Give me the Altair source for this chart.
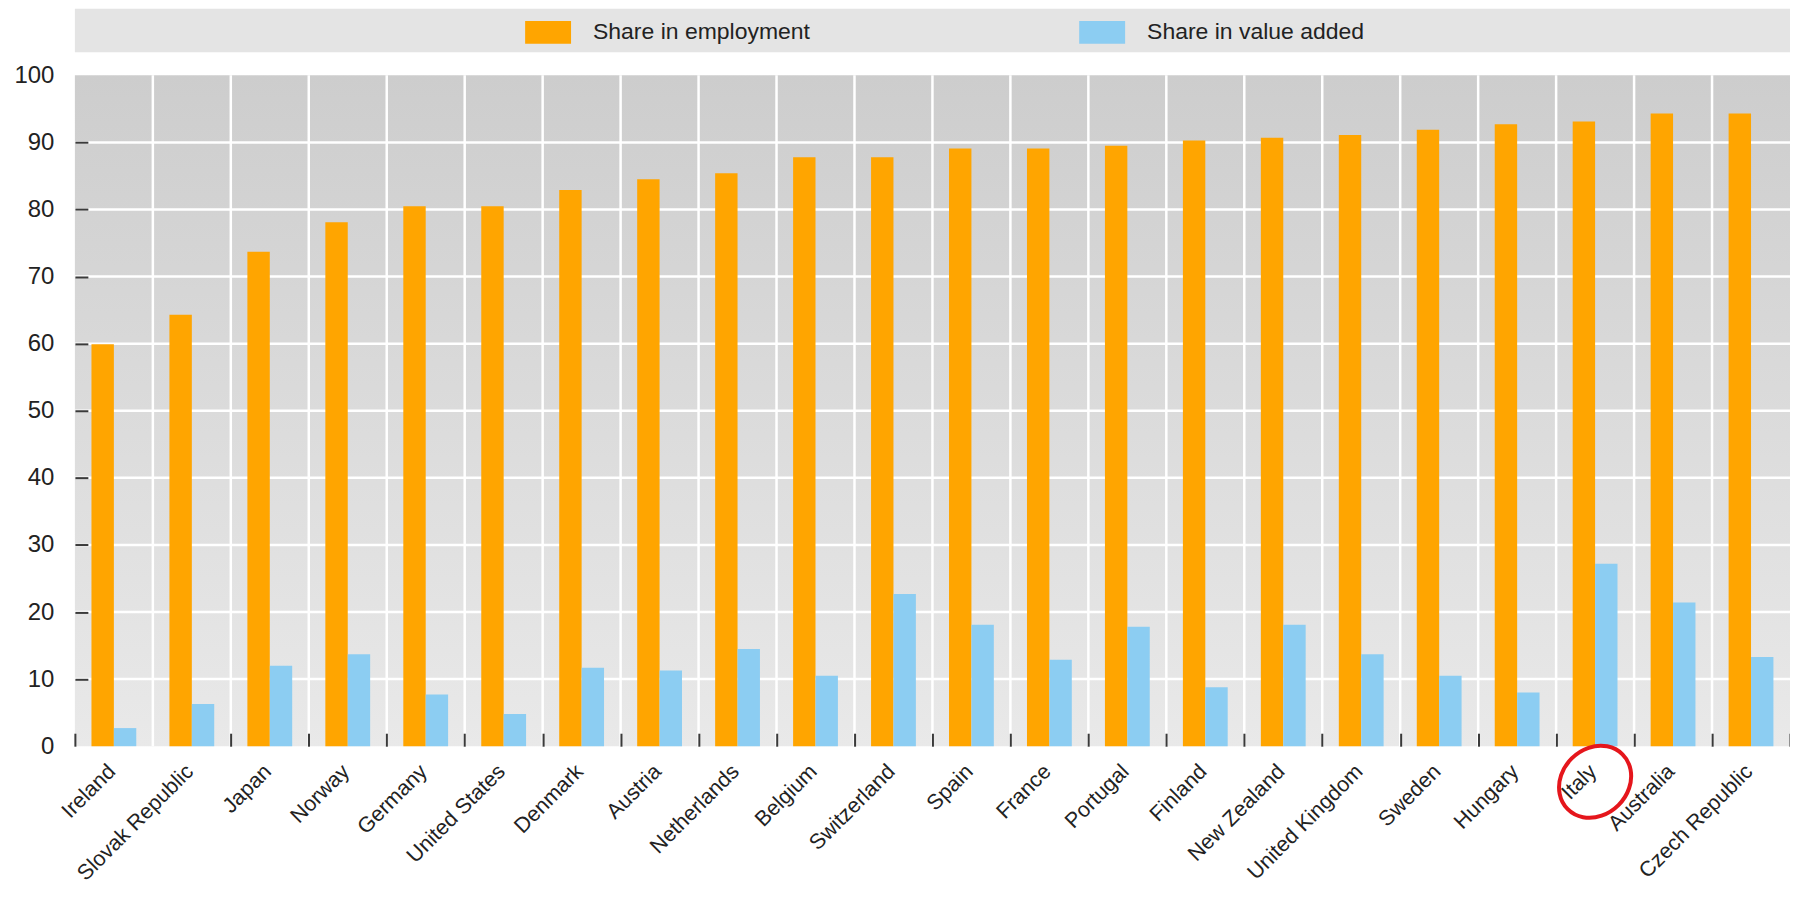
import altair as alt
import pandas as pd

# ---------------- data ----------------
countries = ["Ireland", "Slovak Republic", "Japan", "Norway", "Germany", "United States",
             "Denmark", "Austria", "Netherlands", "Belgium", "Switzerland", "Spain", "France",
             "Portugal", "Finland", "New Zealand", "United Kingdom", "Sweden", "Hungary",
             "Italy", "Australia", "Czech Republic"]
employment = [59.9, 64.3, 73.7, 78.1, 80.5, 80.5, 82.9, 84.5, 85.4, 87.8, 87.8, 89.1, 89.1,
              89.5, 90.3, 90.7, 91.1, 91.9, 92.7, 93.1, 94.3, 94.3]
value_added = [2.7, 6.3, 12.0, 13.7, 7.7, 4.8, 11.7, 11.3, 14.5, 10.5, 22.7, 18.1, 12.9,
               17.8, 8.8, 18.1, 13.7, 10.5, 8.0, 27.2, 21.4, 13.3]
series_names = ["Share in employment", "Share in value added"]
series_colors = ["#ffa500", "#8ccdf2"]
y_ticks = [0, 10, 20, 30, 40, 50, 60, 70, 80, 90, 100]
grid_values = [10, 20, 30, 40, 50, 60, 70, 80, 90]
highlight_country = ["Italy"]
highlight_level = [-5.3]

rows = []
for c, e, v in zip(countries, employment, value_added):
    rows.append({"country": c, "series": series_names[0], "value": e})
    rows.append({"country": c, "series": series_names[1], "value": v})
df = pd.DataFrame(rows)

FONT = "Liberation Sans"
TXT = "#222222"
TICK = "#3a3a3a"
TILTED_ELLIPSE = "M-0.7071,0.7071A1,0.85,-45,1,1,0.7071,-0.7071A1,0.85,-45,1,1,-0.7071,0.7071Z"

x_scale = alt.Scale(domain=countries, paddingInner=0, paddingOuter=0)
y_scale = alt.Scale(domain=[0, 100], nice=False, zero=True)

x_axis = alt.Axis(
    title=None, tickBand="extent", offset=-13, tickSize=13, tickColor=TICK, tickWidth=2,
    tickOpacity={"condition": {"test": "datum.value === 'Ireland'", "value": 0}, "value": 1},
    domain=False, grid=False, labelAngle=315, labelAlign="right", labelBaseline="middle",
    labelFont=FONT, labelFontSize=21.5, labelColor=TXT, labelPadding=22, labelOffset=-2,
    labelLimit=400, labelOverlap=False, zindex=1,
)
y_axis = alt.Axis(
    title=None, values=y_ticks, offset=-13, tickSize=13, tickColor=TICK, tickWidth=2,
    tickOpacity={"condition": {"test": "datum.value == 0 || datum.value == 100", "value": 0}, "value": 1},
    domain=False, grid=False, labelFont=FONT, labelFontSize=24, labelColor=TXT,
    labelPadding=21, zindex=1,
)

legend = alt.Legend(
    title=None, orient="none", legendX=451, legendY=-66, direction="horizontal",
    symbolType="M-1,-0.5H1V0.5H-1Z", symbolSize=2116, symbolStrokeWidth=0, symbolOpacity=1,
    labelFont=FONT, labelFontSize=23, labelColor=TXT, labelOffset=22, labelLimit=500,
    columnPadding=269, padding=0, zindex=1,
)

one = pd.DataFrame({"k": [0]})

background = alt.Chart(one).mark_rect(
    fill=alt.Gradient(
        gradient="linear",
        stops=[alt.GradientStop(color="#cdcdcd", offset=0),
               alt.GradientStop(color="#e9e9e9", offset=1)],
        x1=0, x2=0, y1=0, y2=1,
    )
).encode(x=alt.value(0), x2=alt.value("width"), y=alt.value(0), y2=alt.value("height"))

legend_band = alt.Chart(one).mark_rect(fill="#e4e4e4").encode(
    x=alt.value(0), x2=alt.value("width"), y=alt.value(-66.7), y2=alt.value(-23)
)

vgrid = alt.Chart(pd.DataFrame({"country": countries[1:]})).mark_rule(
    color="white", strokeWidth=2.5
).encode(
    x=alt.X("country:N", scale=x_scale, axis=x_axis, bandPosition=0),
    y=alt.value(0), y2=alt.value("height"),
)

hgrid = alt.Chart(pd.DataFrame({"value": grid_values})).mark_rule(
    color="white", strokeWidth=2.5
).encode(
    y=alt.Y("value:Q", scale=y_scale, axis=y_axis),
    x=alt.value(0), x2=alt.value("width"),
)

bars = alt.Chart(df).mark_bar().encode(
    x=alt.X("country:N", scale=x_scale, axis=x_axis),
    xOffset=alt.XOffset("series:N", scale=alt.Scale(domain=series_names, paddingInner=0, paddingOuter=0.74)),
    y=alt.Y("value:Q", scale=y_scale, axis=y_axis),
    color=alt.Color("series:N", scale=alt.Scale(domain=series_names, range=series_colors), legend=legend),
)

ellipse = alt.Chart(pd.DataFrame({"country": highlight_country, "value": highlight_level})).mark_point(
    shape=TILTED_ELLIPSE, filled=False, color="#e5161c", strokeWidth=4, size=6022, opacity=1, dx=-9
).encode(
    x=alt.X("country:N", scale=x_scale, axis=x_axis),
    y=alt.Y("value:Q", scale=y_scale, axis=y_axis),
)

chart = alt.layer(background, legend_band, vgrid, hgrid, bars, ellipse).properties(
    width=1718, height=672,
    autosize=alt.AutoSizeParams(type="none"),
    padding={"left": 67, "top": 66.7, "right": 0, "bottom": 138},
    background="white",
).configure_view(stroke=None)

chart.save("out.html", embed_options={"renderer": "svg", "actions": False})
